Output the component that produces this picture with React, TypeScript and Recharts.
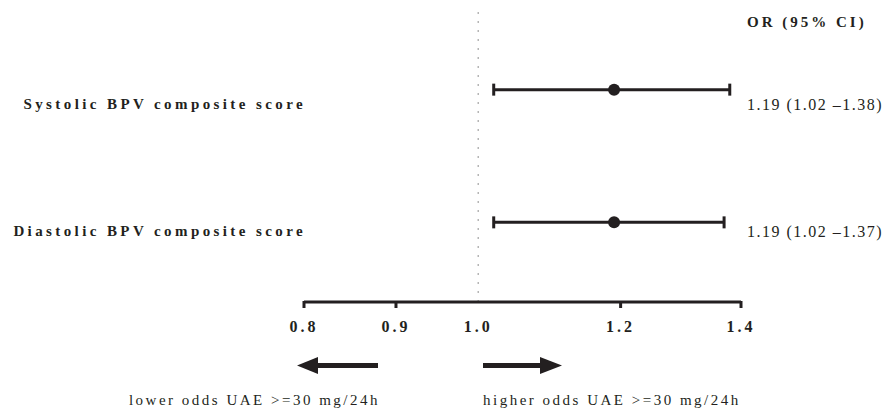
import React from "react";
import {
  ScatterChart,
  Scatter,
  XAxis,
  YAxis,
  ErrorBar,
  ReferenceLine,
  Customized,
} from "recharts";

// rows from top to bottom
const rowLabels = ["Systolic BPV composite score", "Diastolic BPV composite score"];
const rowIndex = [2, 1];
const oddsRatio = [1.19, 1.19];
const ciLow = [1.02, 1.02];
const ciHigh = [1.38, 1.37];
const xTicks = [0.8, 0.9, 1.0, 1.2, 1.4];
const noTickMark = [1.0];
const leftNote = "lower odds UAE >=30 mg/24h";
const rightNote = "higher odds UAE >=30 mg/24h";
const columnTitle = "OR (95% CI)";

const data = rowLabels.map((name, i) => ({
  name,
  row: rowIndex[i],
  or: oddsRatio[i],
  err: [oddsRatio[i] - ciLow[i], ciHigh[i] - oddsRatio[i]],
  text: `${oddsRatio[i].toFixed(2)} (${ciLow[i].toFixed(2)} \u2013${ciHigh[i].toFixed(2)})`,
}));

const FONT = '"Liberation Serif", "Times New Roman", serif';
const INK = "#231f20";

const XTick = ({ x, y, payload }: any) => {
  const v = payload.value;
  return (
    <g>
      {!noTickMark.includes(v) && (
        <line x1={x} x2={x} y1={y - 9} y2={y - 2} stroke={INK} strokeWidth={3} />
      )}
      <text
        x={x}
        y={y + 22}
        textAnchor="middle"
        fontFamily={FONT}
        fontWeight="bold"
        fontSize={16}
        letterSpacing={3}
        fill={INK}
      >
        {v.toFixed(1)}
      </text>
    </g>
  );
};

const YTick = ({ y, payload }: any) => {
  const i = data.findIndex((d) => d.row === payload.value);
  if (i < 0) return null;
  const dy = i === 0 ? 19 : 14;
  return (
    <g>
      <text
        x={306}
        y={y + dy}
        textAnchor="end"
        fontFamily={FONT}
        fontWeight="bold"
        fontSize={15}
        letterSpacing={3.4}
        fill={INK}
      >
        {data[i].name}
      </text>
      <text
        x={747}
        y={y + dy + 1}
        textAnchor="start"
        fontFamily={FONT}
        fontSize={16}
        letterSpacing={1.5}
        fill={INK}
      >
        {data[i].text}
      </text>
    </g>
  );
};

const Annotations = () => (
  <g>
    <text x={747} y={27} fontFamily={FONT} fontWeight="bold" fontSize={15} letterSpacing={3} fill={INK}>
      {columnTitle}
    </text>
    {/* left arrow */}
    <rect x={316} y={363} width={62} height={5} fill={INK} />
    <polygon points="297,365.5 318,357 318,374" fill={INK} />
    {/* right arrow */}
    <rect x={483} y={363} width={59} height={5} fill={INK} />
    <polygon points="562,365.5 540,357 540,374" fill={INK} />
    <text x={380} y={405} textAnchor="end" fontFamily={FONT} fontSize={15} letterSpacing={2.5} fill={INK}>
      {leftNote}
    </text>
    <text x={483} y={405} textAnchor="start" fontFamily={FONT} fontSize={15} letterSpacing={2.5} fill={INK}>
      {rightNote}
    </text>
  </g>
);

export default function App() {
  return (
    <div style={{ position: "absolute", left: 0, top: 0, background: "#fff" }}>
      <ScatterChart width={894} height={410} margin={{ top: 10, right: 153, left: 0, bottom: 0 }}>
        <XAxis
          type="number"
          dataKey="or"
          scale="log"
          domain={[0.8, 1.4]}
          ticks={xTicks}
          interval={0}
          allowDataOverflow
          height={108}
          axisLine={{ stroke: INK, strokeWidth: 3 }}
          tickLine={false}
          tick={<XTick />}
        />
        <YAxis
          type="number"
          dataKey="row"
          domain={[0.4, 2.6]}
          ticks={rowIndex}
          width={304}
          axisLine={false}
          tickLine={false}
          tick={<YTick />}
        />
        <ReferenceLine x={1} stroke="#b5b5b5" strokeWidth={1.5} strokeDasharray="2 7" />
        <Scatter
          data={data}
          isAnimationActive={false}
          shape={(p: any) => <circle cx={p.cx} cy={p.cy} r={6} fill={INK} />}
        >
          <ErrorBar dataKey="err" direction="x" width={6} stroke={INK} strokeWidth={3} />
        </Scatter>
        <Customized component={Annotations} />
      </ScatterChart>
    </div>
  );
}
